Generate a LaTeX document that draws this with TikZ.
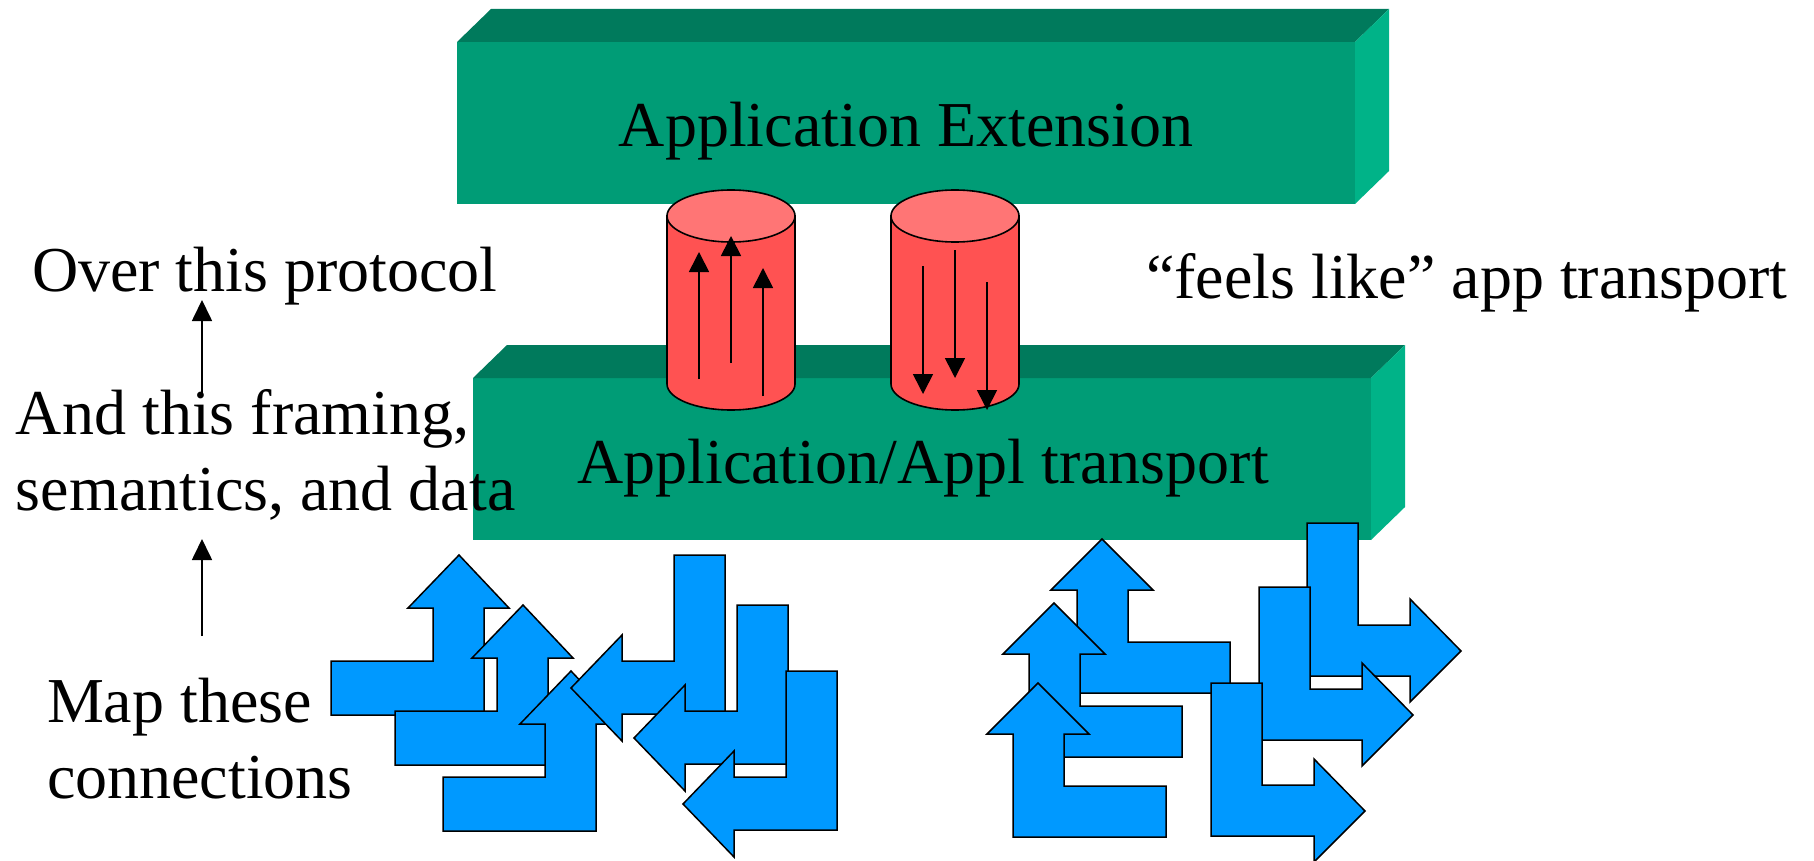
\documentclass[tikz,border=0pt]{standalone}
\usepackage{fontspec}
\setmainfont{Liberation Serif}
\usetikzlibrary{arrows.meta}
\definecolor{gfront}{RGB}{0,156,118}
\definecolor{gtop}{RGB}{0,122,92}
\definecolor{gside}{RGB}{0,179,136}
\definecolor{cylbody}{RGB}{255,82,82}
\definecolor{cyltop}{RGB}{255,117,117}
\definecolor{flow}{RGB}{0,153,255}
\tikzset{
  pics/upleft/.style={code={\filldraw[flowshape] (0,160) -- (0,106) -- (102,106) -- (102,53) -- (77,53) -- (128,0) -- (178,53) -- (153,53) -- (153,160) -- cycle;}},
  pics/downleft/.style={code={\filldraw[flowshape] (103,0) -- (154,0) -- (154,159) -- (51,159) -- (51,186) -- (0,133) -- (51,80) -- (51,106) -- (103,106) -- cycle;}},
  pics/upright/.style={code={\filldraw[flowshape] (26,154) -- (26,51) -- (0,51) -- (51,0) -- (102,51) -- (77,51) -- (77,103) -- (179,103) -- (179,154) -- cycle;}},
  pics/downright/.style={code={\filldraw[flowshape] (0,0) -- (51,0) -- (51,102) -- (103,102) -- (103,76) -- (154,128) -- (103,179) -- (103,153) -- (0,153) -- cycle;}},
}
\begin{document}
\begin{tikzpicture}[x=1pt,y=-1pt,
  lbl/.style={font=\fontsize{64}{76}\selectfont, inner sep=0pt, outer sep=0pt, text=black},
  frontface/.style={fill=gfront, minimum width=898pt, minimum height=162pt, inner sep=0pt, outer sep=0pt, draw=none},
  flowshape/.style={fill=flow, draw=black, line width=1.5pt, line join=miter},
  cyl/.style={draw=black, line width=1.6pt},
  flowarrow/.style={line width=1.7pt, -{Triangle[width=20pt,length=20pt]}},
  note/.style={line width=1.7pt, -{Triangle[width=20pt,length=21pt]}},
]
\useasboundingbox (0,0) rectangle (1814,861);

% upper box
\node[frontface] (extf) at (906,123) {};
\fill[gtop] (extf.north west) -- ++(34,-33) -- ([shift={(34,-33)}]extf.north east) -- (extf.north east) -- cycle;
\fill[gside] (extf.north east) -- ++(34,-33) -- ([shift={(34,-33)}]extf.south east) -- (extf.south east) -- cycle;
\node[lbl, anchor=base] (extlbl) at (906,147) {Application Extension};

% lower box
\node[frontface] (trf) at (922,459) {};
\fill[gtop] (trf.north west) -- ++(34,-33) -- ([shift={(34,-33)}]trf.north east) -- (trf.north east) -- cycle;
\fill[gside] (trf.north east) -- ++(34,-33) -- ([shift={(34,-33)}]trf.south east) -- (trf.south east) -- cycle;
\node[lbl, anchor=base] (trlbl) at (923,483) {Application/Appl transport};

% cylinders
\foreach \cx in {731,955}{
  \filldraw[cyl, fill=cylbody] (\cx-64,216) -- (\cx-64,384) arc[start angle=180,end angle=360,x radius=64pt,y radius=26pt] -- (\cx+64,216) -- cycle;
  \filldraw[cyl, fill=cyltop] (\cx,216) ellipse[x radius=64pt, y radius=26pt];
}
\coordinate (u1s) at (699,379); \coordinate (u1e) at (699,252);
\coordinate (u2s) at (731,363); \coordinate (u2e) at (731,236);
\coordinate (u3s) at (763,396); \coordinate (u3e) at (763,268);
\coordinate (d1s) at (923,266); \coordinate (d1e) at (923,394);
\coordinate (d2s) at (955,250); \coordinate (d2e) at (955,378);
\coordinate (d3s) at (987,282); \coordinate (d3e) at (987,410);
\draw[flowarrow] (u1s) -- (u1e);
\draw[flowarrow] (u2s) -- (u2e);
\draw[flowarrow] (u3s) -- (u3e);
\draw[flowarrow] (d1s) -- (d1e);
\draw[flowarrow] (d2s) -- (d2e);
\draw[flowarrow] (d3s) -- (d3e);

% blue connection arrows, left cluster
\pic (a1) at (331,555) {upleft};
\pic (a2) at (395,605) {upleft};
\pic (a3) at (443,671) {upleft};
\pic (l1) at (571,555) {downleft};
\pic (l2) at (634,605) {downleft};
\pic (l3) at (683,671) {downleft};
% right cluster
\pic (b1) at (1051,539) {upright};
\pic (b2) at (1003,603) {upright};
\pic (b3) at (987,683) {upright};
\pic (r1) at (1307,523) {downright};
\pic (r2) at (1259,587) {downright};
\pic (r3) at (1211,683) {downright};

% left texts
\node[lbl, anchor=base west] (over) at (32,291) {Over this protocol};
\node[lbl, anchor=base west] (frame1) at (16,434) {And this framing,};
\node[lbl, anchor=base west] (frame2) at (16,510) {semantics, and data};
\node[lbl, anchor=base west] (map1) at (47,722) {Map these};
\node[lbl, anchor=base west] (map2) at (47,798) {connections};
\node[lbl, anchor=base west] (feels) at (1146,298) {“feels like” app transport};

\coordinate (n1s) at (202,393); \coordinate (n1e) at (202,300);
\coordinate (n2s) at (202,636); \coordinate (n2e) at (202,539);
\draw[note] (n1s) -- (n1e);
\draw[note] (n2s) -- (n2e);
\end{tikzpicture}
\end{document}
